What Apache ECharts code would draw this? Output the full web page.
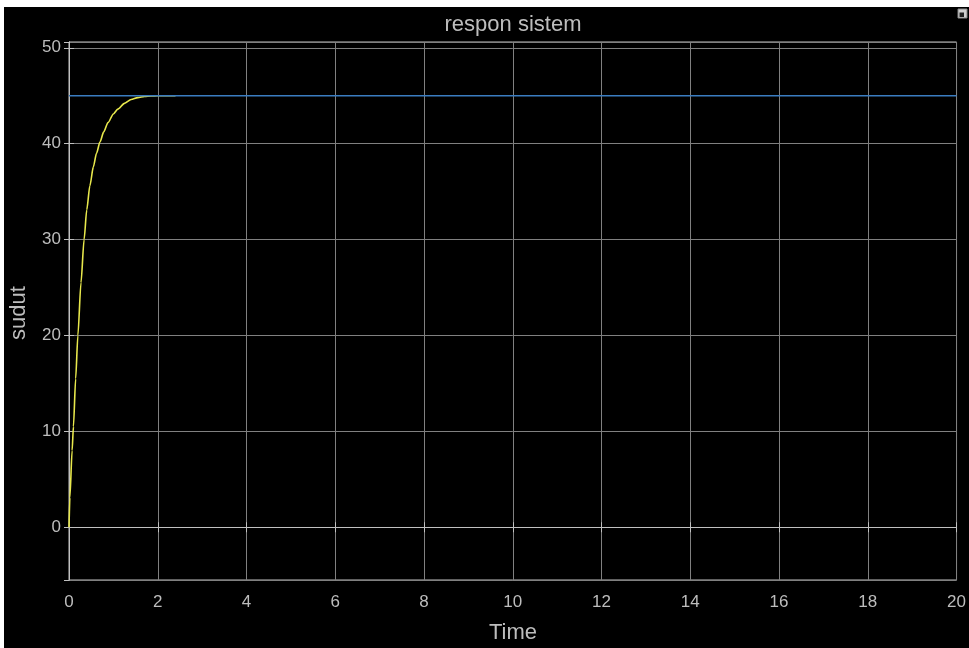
<!DOCTYPE html>
<html>
<head>
<meta charset="utf-8">
<title>respon sistem</title>
<script src="https://cdn.jsdelivr.net/npm/echarts@6/dist/echarts.min.js"></script>
<style>
  html, body { margin: 0; padding: 0; background: #ffffff; width: 969px; height: 648px; overflow: hidden; }
  #chart { position: absolute; left: 4px; top: 7px; width: 965px; height: 641px; }
</style>
</head>
<body>
<div id="chart"></div>
<script>
// Step response of the angle (sudut) against time
const responseTime  = [0, 0.02, 0.07, 0.1, 0.15, 0.2, 0.27, 0.34, 0.4, 0.47, 0.55, 0.62, 0.7, 0.78, 0.88, 1.0, 1.1, 1.25, 1.4, 1.55, 1.7, 1.85, 2.0, 2.2, 2.4];
const responseAngle = [0, 3.1, 8, 10.5, 15.5, 20, 25.5, 30, 33.1, 35.6, 37.6, 39.0, 40.2, 41.2, 42.2, 43.1, 43.6, 44.2, 44.6, 44.8, 44.92, 44.97, 45, 45, 45];

// Setpoint (reference angle)
const setpointTime  = [0, 20];
const setpointAngle = [45, 45];

// Axis tick labels
const xTicks = [0, 2, 4, 6, 8, 10, 12, 14, 16, 18, 20];
const yTicks = [0, 10, 20, 30, 40, 50];

const titleText = 'respon sistem';
const xName = 'Time';
const yName = 'sudut';

const textGray = '#bdbdbd';
const gridGray = '#808080';
const boxGray = '#c0c0c0';
const fontFamily = '"Liberation Sans", Arial, Helvetica, sans-serif';

const chart = echarts.init(document.getElementById('chart'), null, { renderer: 'canvas' });

const gridBox = { left: 65, top: 35, width: 888, height: 538 };

function zip(a, b) { return a.map((v, i) => [v, b[i]]); }

const baseX = {
  type: 'value', min: xTicks[0], max: xTicks[xTicks.length - 1], interval: 2,
  axisLine: { show: true, lineStyle: { color: boxGray, width: 1 } },
  axisTick: { show: true, inside: true, length: 5, lineStyle: { color: boxGray } },
  splitLine: { show: false }
};
const baseY = {
  type: 'value', min: -5.5, max: 50.6, splitNumber: 5,
  axisLine: { show: true, lineStyle: { color: boxGray, width: 1 } },
  axisTick: { show: true, inside: true, length: 5, lineStyle: { color: boxGray } },
  splitLine: { show: false }
};

chart.setOption({
  backgroundColor: '#000000',
  animation: false,
  grid: Object.assign({ show: true, borderColor: boxGray, borderWidth: 1, backgroundColor: 'transparent' }, gridBox),
  xAxis: [
    Object.assign({}, baseX, {
      position: 'bottom',
      splitLine: { show: true, lineStyle: { color: gridGray, width: 1 } },
      axisLabel: { show: true, color: textGray, fontSize: 17, fontFamily: fontFamily, margin: 14,
                   formatter: v => xTicks.includes(v) ? String(v) : '' }
    }),
    Object.assign({}, baseX, { position: 'top', axisLabel: { show: false } })
  ],
  yAxis: [
    Object.assign({}, baseY, {
      position: 'left',
      splitLine: { show: true, lineStyle: { color: gridGray, width: 1 } },
      axisLabel: { show: true, color: textGray, fontSize: 17, fontFamily: fontFamily, margin: 8,
                   showMinLabel: false, showMaxLabel: false,
                   formatter: v => yTicks.includes(v) ? String(v) : '' }
    }),
    Object.assign({}, baseY, { position: 'right', axisLabel: { show: false } })
  ],
  series: [
    {
      name: 'sudut', type: 'line', xAxisIndex: 0, yAxisIndex: 0,
      data: zip(responseTime, responseAngle),
      showSymbol: false, smooth: 0.25, smoothMonotone: 'x', z: 2,
      lineStyle: { color: '#e8e84c', width: 1.6 }
    },
    {
      name: 'setpoint', type: 'line', xAxisIndex: 0, yAxisIndex: 0,
      data: zip(setpointTime, setpointAngle),
      showSymbol: false, z: 3,
      lineStyle: { color: '#3a7cc0', width: 1.5 }
    }
  ],
  graphic: [
    { type: 'text', x: 509, y: 18,
      style: { text: titleText, fill: textGray, font: '22px ' + fontFamily, align: 'center', verticalAlign: 'middle' } },
    { type: 'text', x: 509, y: 626,
      style: { text: xName, fill: textGray, font: '22px ' + fontFamily, align: 'center', verticalAlign: 'middle' } },
    { type: 'text', x: 15, y: 306, rotation: Math.PI / 2,
      style: { text: yName, fill: textGray, font: '22px ' + fontFamily, align: 'center', verticalAlign: 'middle' } },
    { type: 'rect', shape: { x: 954, y: 2, width: 9, height: 9 },
      style: { fill: '#d0d0d0', stroke: '#888888', lineWidth: 1 } },
    { type: 'rect', shape: { x: 955.5, y: 5.5, width: 4.5, height: 4.5 },
      style: { fill: '#222222' } }
  ]
});
</script>
</body>
</html>
